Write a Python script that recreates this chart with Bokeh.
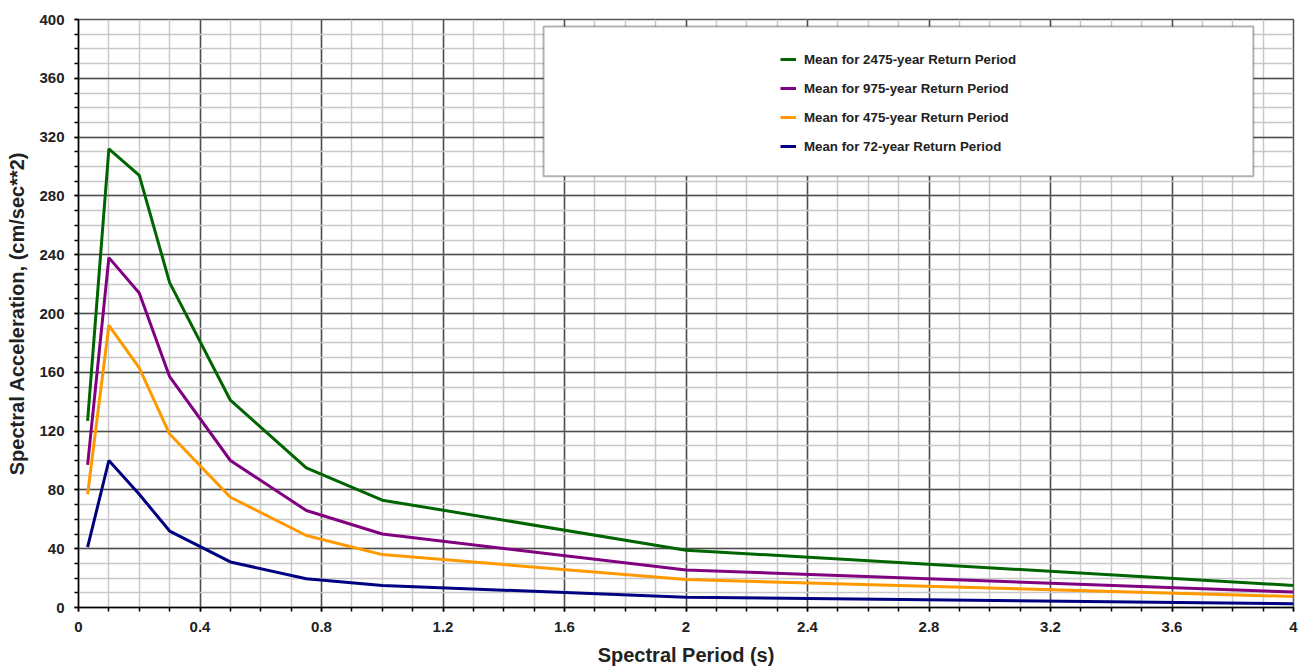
from bokeh.plotting import figure
from bokeh.models import (Legend, LegendItem, FixedTicker, Range1d, BoxAnnotation)
from bokeh.embed import file_html
from bokeh.resources import INLINE

# ---- data ----
periods = [0.03, 0.1, 0.2, 0.3, 0.5, 0.75, 1.0, 2.0, 4.0]
sa_2475 = [127, 312, 294, 221, 141, 95, 73, 39, 15]
sa_975 = [97, 238, 214, 157, 100, 66, 50, 25.5, 10.5]
sa_475 = [77, 192, 163, 118, 75, 49, 36, 19, 7.5]
sa_72 = [41, 100, 77, 52, 31, 19.5, 15, 7, 2.5]
series_labels = ["Mean for 2475-year Return Period", "Mean for 975-year Return Period",
                 "Mean for 475-year Return Period", "Mean for 72-year Return Period"]
series_colors = ["#006400", "#800080", "#FF9900", "#000080"]

x_major_ticks = [0, 0.4, 0.8, 1.2, 1.6, 2, 2.4, 2.8, 3.2, 3.6, 4]
x_tick_labels = ["0", "0.4", "0.8", "1.2", "1.6", "2", "2.4", "2.8", "3.2", "3.6", "4"]
y_major_ticks = [0, 40, 80, 120, 160, 200, 240, 280, 320, 360, 400]
y_tick_labels = ["0", "40", "80", "120", "160", "200", "240", "280", "320", "360", "400"]
x_minor_ticks = [i / 10 for i in range(0, 41)]
y_minor_ticks = list(range(0, 401, 10))

FONT = "Liberation Sans"

p = figure(width=1298, height=668, output_backend="svg", toolbar_location=None,
           x_range=Range1d(0, 4), y_range=Range1d(0, 400),
           min_border_left=78, min_border_right=5, min_border_top=19, min_border_bottom=60)
p.background_fill_color = "white"
p.border_fill_color = "white"
p.outline_line_color = "#555555"
p.outline_line_width = 1.5

# grids
p.xgrid.ticker = FixedTicker(ticks=x_major_ticks, minor_ticks=x_minor_ticks)
p.ygrid.ticker = FixedTicker(ticks=y_major_ticks, minor_ticks=y_minor_ticks)
for g in (p.xgrid, p.ygrid):
    g.grid_line_color = "#4d4d4d"
    g.grid_line_width = 1.5
    g.minor_grid_line_color = "#c8c8c8"
    g.minor_grid_line_width = 1.5
    g.level = "underlay"

# axes
p.xaxis.ticker = FixedTicker(ticks=x_major_ticks, minor_ticks=x_minor_ticks)
p.yaxis.ticker = FixedTicker(ticks=y_major_ticks, minor_ticks=y_minor_ticks)
p.xaxis.major_label_overrides = {t: l for t, l in zip(x_major_ticks, x_tick_labels)}
p.yaxis.major_label_overrides = {t: l for t, l in zip(y_major_ticks, y_tick_labels)}
for ax in (p.xaxis, p.yaxis):
    ax.axis_line_color = "black"
    ax.axis_line_width = 1.5
    ax.major_tick_line_color = "black"
    ax.minor_tick_line_color = "black"
    ax.major_tick_line_width = 1.5
    ax.minor_tick_line_width = 1.5
    ax.major_tick_in = 0
    ax.minor_tick_in = 0
    ax.major_tick_out = 4
    ax.minor_tick_out = 4
    ax.major_label_text_font = FONT
    ax.major_label_text_font_style = "bold"
    ax.major_label_text_font_size = "15px"
    ax.major_label_text_color = "#222222"
    ax.axis_label_text_font = FONT
    ax.axis_label_text_font_style = "bold"
    ax.axis_label_text_font_size = "20px"
    ax.axis_label_text_color = "#222222"
p.xaxis.major_label_standoff = 10
p.yaxis.major_label_standoff = 10
p.xaxis.axis_label = "Spectral Period (s)"
p.yaxis.axis_label = "Spectral Acceleration, (cm/sec**2)"
p.xaxis.axis_label_standoff = 9
p.yaxis.axis_label_standoff = 8

# lines
renderers = []
for ys, c in zip([sa_2475, sa_975, sa_475, sa_72], series_colors):
    r = p.line(periods, ys, line_color=c, line_width=3)
    renderers.append(r)

# legend frame
box = BoxAnnotation(left=1.531, right=3.868, top=395.2, bottom=293.4,
                    fill_color="white", fill_alpha=1.0,
                    line_color="black", line_width=2, level="annotation")
p.add_layout(box)

legend = Legend(items=[LegendItem(label=l, renderers=[r]) for l, r in zip(series_labels, renderers)],
                location=(702, 451), orientation="vertical",
                background_fill_alpha=0, border_line_color=None,
                padding=0, margin=0, spacing=9,
                glyph_width=16, glyph_height=20, label_height=20,
                label_standoff=8,
                label_text_font=FONT, label_text_font_style="bold",
                label_text_font_size="13.3px", label_text_color="#222222")
p.add_layout(legend, "center")

open("out.html", "w").write(file_html(p, INLINE))
